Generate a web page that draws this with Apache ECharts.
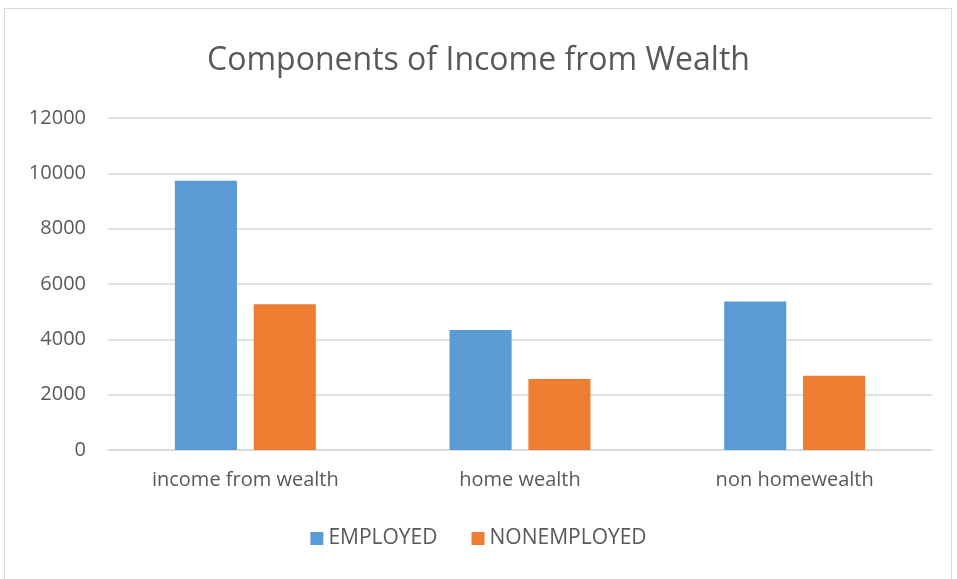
<!DOCTYPE html>
<html>
<head>
  <meta charset="utf-8">
  <title>Components of Income from Wealth</title>
  <script src="https://cdn.jsdelivr.net/npm/echarts@6/dist/echarts.min.js"></script>
  <style>
    html, body { margin: 0; padding: 0; background: #fff; }
    #frame { position: absolute; left: 4px; top: 8px; width: 948px; height: 580px; border: 1px solid #d9d9d9; box-sizing: border-box; }
    #main { position: absolute; left: 0; top: 0; width: 957px; height: 579px; }
  </style>
</head>
<body>
<div id="frame"></div>
<div id="main"></div>
<script type="text/javascript">
  // data
  var categories = ['income from wealth', 'home wealth', 'non homewealth'];
  var employed = [9730, 4340, 5370];
  var nonemployed = [5270, 2570, 2680];
  var seriesNames = ['EMPLOYED', 'NONEMPLOYED'];

  var font = '"Open Sans", "Liberation Sans", sans-serif';
  var myChart = echarts.init(document.getElementById('main'));
  var option = {
    animation: false,
    title: {
      text: 'Components of Income from Wealth',
      left: 'center',
      top: 40,
      textStyle: { color: '#595959', fontSize: 32, fontWeight: 'normal', fontFamily: font }
    },
    legend: {
      data: seriesNames,
      bottom: 25,
      left: 'center',
      itemWidth: 13,
      itemHeight: 13,
      itemGap: 34,
      icon: 'rect',
      textStyle: { color: '#595959', fontSize: 21, fontFamily: font }
    },
    grid: { left: 108, right: 25, top: 118, bottom: 129, containLabel: false },
    xAxis: {
      type: 'category',
      data: categories,
      axisLine: { lineStyle: { color: '#d9d9d9', width: 1.5 } },
      axisTick: { show: false },
      axisLabel: { color: '#595959', fontSize: 20, fontFamily: font, margin: 20 }
    },
    yAxis: {
      type: 'value',
      min: 0,
      max: 12000,
      interval: 2000,
      axisLine: { show: false },
      axisTick: { show: false },
      splitLine: { lineStyle: { color: '#d9d9d9', width: 1.5 } },
      axisLabel: { color: '#595959', fontSize: 20, fontFamily: font, margin: 22, formatter: function (v) { return String(v); } }
    },
    series: [
      {
        name: seriesNames[0],
        type: 'bar',
        data: employed,
        barWidth: '22.6%',
        barGap: '27%',
        itemStyle: { color: '#5b9bd5' }
      },
      {
        name: seriesNames[1],
        type: 'bar',
        data: nonemployed,
        barWidth: '22.6%',
        barGap: '27%',
        itemStyle: { color: '#ed7d31' }
      }
    ]
  };
  myChart.setOption(option);
</script>
</body>
</html>
